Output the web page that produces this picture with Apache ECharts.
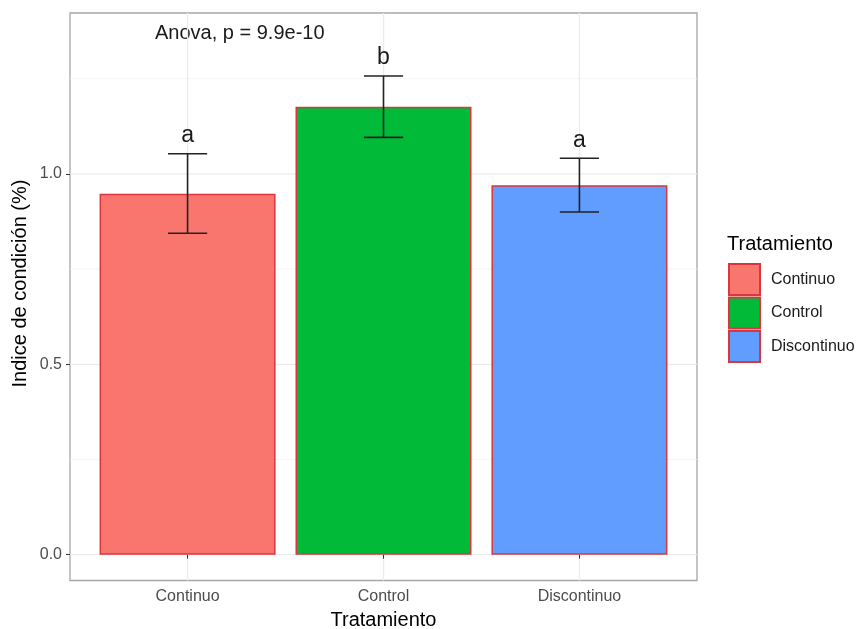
<!DOCTYPE html>
<html>
<head>
<meta charset="utf-8">
<script src="https://cdn.jsdelivr.net/npm/echarts@6/dist/echarts.min.js"></script>
<style>html,body{margin:0;padding:0;background:#fff}#c{width:864px;height:629px}</style>
</head>
<body>
<div id="c"></div>
<script>
const categories = ['Continuo', 'Control', 'Discontinuo'];
const means = [0.948, 1.176, 0.970];
const errLow = [0.844, 1.096, 0.900];
const errHigh = [1.053, 1.257, 1.041];
const letters = ['a', 'b', 'a'];
const yTicks = [0, 0.5, 1.0];
const yMinor = [0.25, 0.75, 1.25];
const xPos = [1, 2, 3];
const annotation = 'Anova, p = 9.9e-10';
const xTitle = 'Tratamiento';
const yTitle = 'Indice de condición (%)';
const legendTitle = 'Tratamiento';

const fills = ['#F8766D', '#00BA38', '#619CFF'];
const borderRed = '#d9363e';
const FONT = '"Liberation Sans", Arial, sans-serif';

const chart = echarts.init(document.getElementById('c'), null, {renderer: 'canvas'});

const gridData = [];
yTicks.forEach(v => gridData.push([v, 0, 'y']));
yMinor.forEach(v => gridData.push([v, 1, 'y']));
xPos.forEach(v => gridData.push([v, 0, 'x']));

const barSeries = categories.map((c, i) => ({
  name: c,
  type: 'bar',
  z: 2,
  barWidth: 176,
  barGap: '-100%',
  itemStyle: {color: fills[i], borderColor: borderRed, borderWidth: 1.5},
  emphasis: {disabled: true},
  data: [[xPos[i], means[i]]]
}));

const option = {
  animation: false,
  grid: {left: 70, right: 167, top: 13, bottom: 48.5, outerBoundsMode: 'none', containLabel: false, show: true, borderColor: '#a6a6a6', borderWidth: 1.3, backgroundColor: 'transparent'},
  legend: {
    orient: 'vertical', left: 728, top: 263, padding: 0,
    itemWidth: 31, itemHeight: 31, itemGap: 0.5,
    icon: 'rect',
    data: categories,
    textStyle: {fontSize: 16, fontFamily: FONT, color: '#1a1a1a', padding: [0, 0, 0, 6]},
    selectedMode: false
  },
  xAxis: {
    type: 'value', min: 0.4, max: 3.6,
    name: xTitle, nameLocation: 'middle', nameGap: 30,
    nameTextStyle: {fontSize: 20, fontFamily: FONT, color: '#000'},
    axisLine: {show: false},
    splitLine: {show: false},
    axisTick: {show: true, customValues: xPos, length: 4, lineStyle: {color: '#333'}},
    axisLabel: {customValues: xPos, formatter: v => categories[Math.round(v) - 1], fontSize: 16, fontFamily: FONT, color: '#4d4d4d', margin: 8}
  },
  yAxis: {
    type: 'value', min: -0.0677, max: 1.4225,
    axisLine: {show: false},
    splitLine: {show: false},
    axisTick: {show: true, customValues: yTicks, length: 4, lineStyle: {color: '#333'}},
    axisLabel: {customValues: yTicks, formatter: v => v.toFixed(1), fontSize: 16, fontFamily: FONT, color: '#4d4d4d', margin: 8}
  },
  graphic: [
    {type: 'text', left: 155, top: 23, style: {text: annotation, font: '20px ' + FONT, fill: '#1a1a1a'}},
    {type: 'text', left: 727, top: 234, style: {text: legendTitle, font: '20px ' + FONT, fill: '#000'}},
    {type: 'text', x: 20, y: 283.5, rotation: Math.PI / 2, style: {text: yTitle, font: '20px ' + FONT, fill: '#000', align: 'center', verticalAlign: 'middle'}}
  ],
  series: [
    {
      type: 'custom', z: 0, silent: true,
      data: gridData,
      renderItem: (params, api) => {
        const cs = params.coordSys;
        const v = api.value(0);
        const minor = api.value(1) === 1;
        const dir = gridData[params.dataIndex][2];
        const style = {stroke: minor ? '#f4f4f4' : '#ebebeb', lineWidth: minor ? 0.8 : 1.3};
        if (dir === 'y') {
          const y = api.coord([1, v])[1];
          return {type: 'line', shape: {x1: cs.x, y1: y, x2: cs.x + cs.width, y2: y}, style};
        }
        const x = api.coord([v, 0])[0];
        return {type: 'line', shape: {x1: x, y1: cs.y, x2: x, y2: cs.y + cs.height}, style};
      }
    },
    ...barSeries,
    {
      type: 'custom', z: 3, silent: true,
      data: xPos.map((x, i) => [x, errLow[i], errHigh[i]]),
      renderItem: (params, api) => {
        const x = api.value(0);
        const top = api.coord([x, api.value(2)]);
        const bot = api.coord([x, api.value(1)]);
        const half = api.size([0.1, 0])[0];
        const st = {stroke: '#222', lineWidth: 1.6};
        return {
          type: 'group',
          children: [
            {type: 'line', shape: {x1: top[0], y1: top[1], x2: bot[0], y2: bot[1]}, style: st},
            {type: 'line', shape: {x1: top[0] - half, y1: top[1], x2: top[0] + half, y2: top[1]}, style: st},
            {type: 'line', shape: {x1: bot[0] - half, y1: bot[1], x2: bot[0] + half, y2: bot[1]}, style: st},
            {type: 'text', style: {text: letters[params.dataIndex], x: top[0], y: top[1] - 18, align: 'center', verticalAlign: 'middle', font: '23px ' + FONT, fill: '#1a1a1a'}}
          ]
        };
      }
    }
  ]
};
chart.setOption(option);
</script>
</body>
</html>
